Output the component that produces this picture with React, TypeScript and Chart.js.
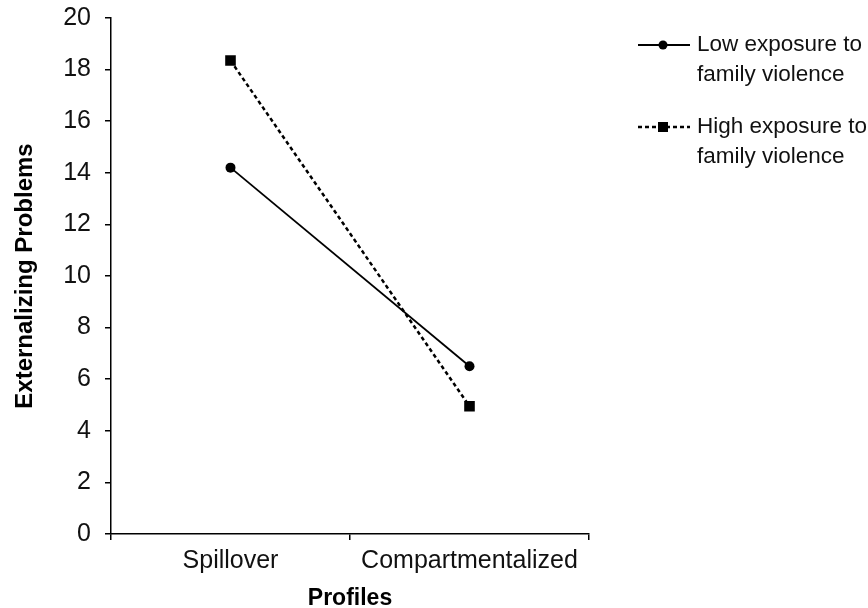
import React, { useEffect, useRef } from "react";
import { Chart, registerables } from "chart.js";

Chart.register(...registerables);

const categories = ["Spillover", "Compartmentalized"];
const lowExposure = [14.2, 6.5];
const highExposure = [18.35, 4.95];
const lowLabel = ["Low exposure to", "family violence"];
const highLabel = ["High exposure to", "family violence"];
const yTitle = "Externalizing Problems";
const xTitle = "Profiles";

const FONT = "'Liberation Sans', Arial, sans-serif";

const legendPlugin = {
  id: "customLegend",
  afterDraw(chart: any) {
    const ctx = chart.ctx;
    const items = [
      { ds: chart.data.datasets[0], y: 45 },
      { ds: chart.data.datasets[1], y: 127 },
    ];
    ctx.save();
    items.forEach(({ ds, y }) => {
      ctx.strokeStyle = "#000";
      ctx.lineWidth = ds.borderWidth;
      ctx.setLineDash(ds.borderDash || []);
      ctx.beginPath();
      ctx.moveTo(638, y);
      ctx.lineTo(690, y);
      ctx.stroke();
      ctx.setLineDash([]);
      ctx.fillStyle = "#000";
      if (ds.pointStyle === "rect") {
        const s = 10;
        ctx.fillRect(663 - s / 2, y - s / 2, s, s);
      } else {
        ctx.beginPath();
        ctx.arc(663, y, 4.5, 0, Math.PI * 2);
        ctx.fill();
      }
      ctx.font = `22.5px ${FONT}`;
      ctx.textBaseline = "middle";
      ctx.textAlign = "left";
      ctx.fillStyle = "#111";
      (ds.label as string[]).forEach((t: string, i: number) => {
        ctx.fillText(t, 697, y + i * 30);
      });
    });
    ctx.restore();
  },
};

export default function App() {
  const ref = useRef<HTMLCanvasElement>(null);
  useEffect(() => {
    if (!ref.current) return;
    const chart = new Chart(ref.current, {
      type: "line",
      data: {
        labels: categories,
        datasets: [
          {
            label: lowLabel as any,
            data: lowExposure,
            borderColor: "#000",
            backgroundColor: "#000",
            borderWidth: 1.8,
            pointStyle: "circle",
            pointRadius: 5,
            pointBackgroundColor: "#000",
            pointBorderWidth: 0,
          },
          {
            label: highLabel as any,
            data: highExposure,
            borderColor: "#000",
            backgroundColor: "#000",
            borderWidth: 2.5,
            borderDash: [4, 3],
            pointStyle: "rect",
            pointRadius: 7.5,
            pointBackgroundColor: "#000",
            pointBorderWidth: 0,
          },
        ],
      },
      options: {
        animation: false,
        responsive: true,
        maintainAspectRatio: false,
        layout: { padding: { left: 0, right: 279, top: 18, bottom: 0 } },
        plugins: {
          legend: { display: false },
          tooltip: { enabled: false },
        },
        scales: {
          x: {
            offset: true,
            grid: {
              offset: true,
              drawOnChartArea: false,
              drawTicks: true,
              tickLength: 6,
              color: "#000",
              lineWidth: 1.5,
            },
            border: { color: "#000", width: 1.5 },
            ticks: {
              color: "#111",
              font: { family: FONT, size: 25 },
              padding: 6,
              maxRotation: 0,
            },
            title: {
              display: true,
              text: xTitle,
              color: "#000",
              font: { family: FONT, size: 23, weight: "bold" },
              padding: { top: 0, bottom: -4 },
            },
            afterFit(scale: any) {
              scale.height = 74;
            },
          },
          y: {
            min: 0,
            max: 20,
            ticks: {
              stepSize: 2,
              color: "#111",
              font: { family: FONT, size: 25 },
              padding: 14,
            },
            grid: {
              drawOnChartArea: false,
              drawTicks: true,
              tickLength: 6,
              color: "#000",
              lineWidth: 1.5,
            },
            border: { color: "#000", width: 1.5 },
            title: {
              display: true,
              text: yTitle,
              color: "#000",
              font: { family: FONT, size: 24, weight: "bold" },
              padding: { top: 11, bottom: 0 },
            },
            afterFit(scale: any) {
              scale.width = 111;
              scale.paddingTop = 0;
              scale.paddingBottom = 0;
            },
          },
        },
      },
      plugins: [legendPlugin],
    });
    return () => chart.destroy();
  }, []);
  return (
    <div style={{ position: "absolute", left: 0, top: 0, width: 868, height: 608, background: "#fff" }}>
      <canvas ref={ref} />
    </div>
  );
}
